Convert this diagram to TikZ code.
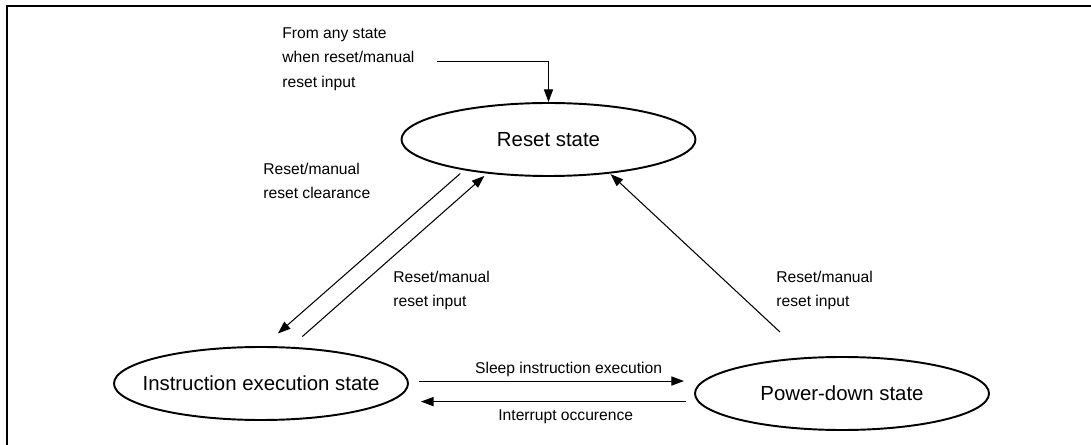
\documentclass[tikz,border=0pt]{standalone}
\usepackage{fontspec}
\setmainfont{Liberation Sans}
\usetikzlibrary{positioning}
\usetikzlibrary{arrows.meta}
\usetikzlibrary{shapes.geometric}

\tikzset{
    state/.style={ellipse, draw=black, line width=1.1pt, minimum width=5.88cm, minimum height=1.46cm,
        inner xsep=-0.5cm, inner ysep=0pt, font=\fontsize{11.6}{14}\selectfont},
    note/.style={anchor=north west, align=left, inner sep=0pt, font=\fontsize{8.9}{13.8}\selectfont},
    trans/.style={draw=black, line width=0.6pt, -{Triangle[length=7.2pt, width=5.2pt]}},
    edgelabel/.style={inner sep=0pt, font=\fontsize{8.9}{10}\selectfont},
}

\begin{document}
\begin{tikzpicture}
    \useasboundingbox (0, 0) rectangle (21.82, -8.9);
    \draw[line width=1.3pt] (0.14, -8.9) -- (0.14, -0.12) -- (21.82, -0.12);

    \node[state] (reset) at (10.97, -2.79) {Reset state};
    \node[state] (instr) at (5.22, -7.67) {Instruction execution state};
    \node[state] (pdown) at (16.84, -7.87) {Power-down state};

    \node[note] (anystate) at (5.64, -0.55) {From any state\\when reset/manual\\reset input};
    \node[note] (clearlbl) at (5.26, -3.256) {Reset/manual\\reset clearance};
    \node[note] (inputlbl) at (7.86, -5.41) {Reset/manual\\reset input};
    \node[note] (pdinputlbl) at (15.52, -5.41) {Reset/manual\\reset input};

    \draw[trans, shorten <=12.7pt] ([yshift=-1.1pt]anystate.east) -| (reset.north);
    \draw[trans, shorten <=2.9pt, shorten >=10.8pt] (reset.200) -- (instr.86);
    \draw[trans, shorten <=8.8pt, shorten >=2pt] (instr.51) -- (reset.209);
    \draw[trans, shorten <=20.9pt, shorten >=0.5pt] (pdown.134) -- (reset.331);

    \draw[trans, shorten <=5.8pt, shorten >=5.7pt] ([yshift=1.4pt]instr.east) -- ([yshift=1.4pt]instr.east -| pdown.west)
        node[edgelabel, above=2.2pt, pos=0.56] {Sleep instruction execution};
    \draw[trans, shorten <=4.7pt, shorten >=6.8pt] ([yshift=-10.3pt]instr.east -| pdown.west) -- ([yshift=-10.3pt]instr.east)
        node[edgelabel, below=4.2pt, pos=0.45] {Interrupt occurence};
\end{tikzpicture}
\end{document}
